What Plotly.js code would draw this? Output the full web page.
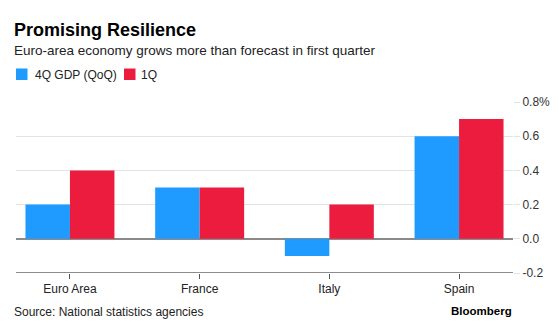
<!DOCTYPE html>
<html>
<head>
<meta charset="utf-8">
<script src="https://cdn.plot.ly/plotly-3.0.1.min.js"></script>
<style>html,body{margin:0;padding:0;background:#fff;}#chart{width:560px;height:331px;}</style>
</head>
<body>
<div id="chart"></div>
<script>
var categories = ["Euro Area", "France", "Italy", "Spain"];
var seriesNames = ["4Q GDP (QoQ)", "1Q"];
var seriesColors = ["#1f9bff", "#eb1c3d"];
var q4Values = [0.2, 0.3, -0.1, 0.6];
var q1Values = [0.4, 0.3, 0.2, 0.7];
var yTickVals = [-0.2, 0, 0.2, 0.4, 0.6, 0.8];
var yTickText = ["-0.2", "0.0", "0.2", "0.4", "0.6", "0.8%"];
var titleText = "Promising Resilience";
var subtitleText = "Euro-area economy grows more than forecast in first quarter";
var sourceText = "Source: National statistics agencies";
var brandText = "Bloomberg";

var FONT = "Liberation Sans, Arial, Helvetica, sans-serif";
var W = 560, H = 331;
var L = 16, R = 513, T = 102, B = 273;
function px(x){ return (x - L) / (R - L); }
function py(y){ return (B - y) / (B - T); }

var traces = [
  {type: "bar", name: seriesNames[0], x: categories, y: q4Values, marker: {color: seriesColors[0]}, hoverinfo: "skip"},
  {type: "bar", name: seriesNames[1], x: categories, y: q1Values, marker: {color: seriesColors[1]}, hoverinfo: "skip"}
];

// legend keys (drawn manually for exact Bloomberg-style spacing)
var legendKeyX = [16, 124];
var legendTextX = [35, 141];
var legendShapes = [], legendAnns = [];
for (var i = 0; i < seriesNames.length; i++) {
  legendShapes.push({type: "rect", xref: "paper", yref: "paper",
    x0: px(legendKeyX[i]), x1: px(legendKeyX[i] + 11.5), y0: py(80), y1: py(68.5),
    fillcolor: seriesColors[i], line: {width: 0}});
  legendAnns.push({text: seriesNames[i], xref: "paper", yref: "paper",
    x: px(legendTextX[i] - 2), y: py(74.5), xanchor: "left", yanchor: "middle",
    showarrow: false, font: {size: 12, color: "#222", family: FONT}});
}

var layout = {
  width: W, height: H,
  margin: {l: L, r: W - R, t: T, b: H - B, pad: 0, autoexpand: false},
  paper_bgcolor: "#fff", plot_bgcolor: "#fff",
  font: {family: FONT, color: "#222", size: 12},
  barmode: "group", bargap: 0.314, bargroupgap: 0,
  showlegend: false,
  xaxis: {type: "category", range: [-0.416, 3.416], showgrid: false, zeroline: false,
          showline: false, ticks: "outside", ticklen: 5, tickcolor: "#555", tickwidth: 1,
          tickfont: {size: 12, color: "#222"}, fixedrange: true, automargin: false},
  yaxis: {side: "right", range: [-0.2, 0.8], tickvals: yTickVals, ticktext: yTickText,
          showgrid: true, gridcolor: "#e3e3e3", gridwidth: 1,
          zeroline: true, zerolinecolor: "#8a8a8a", zerolinewidth: 1.5,
          showline: false, ticks: "outside", ticklen: 6, tickcolor: "#e3e3e3",
          tickfont: {size: 12, color: "#333"}, fixedrange: true, automargin: false},
  shapes: [
    {type: "line", xref: "paper", yref: "y", x0: 0, x1: 1, y0: -0.2, y1: -0.2,
     line: {color: "#666", width: 1.5}}
  ].concat(legendShapes),
  annotations: [
    {text: "<b>" + titleText + "</b>", xref: "paper", yref: "paper", x: px(12), y: py(18),
     xanchor: "left", yanchor: "top", showarrow: false, font: {size: 18, color: "#000", family: FONT}},
    {text: subtitleText, xref: "paper", yref: "paper", x: px(12), y: py(41),
     xanchor: "left", yanchor: "top", showarrow: false, font: {size: 13.5, color: "#222", family: FONT}},
    {text: sourceText, xref: "paper", yref: "paper", x: px(12), y: py(303),
     xanchor: "left", yanchor: "top", showarrow: false, font: {size: 12, color: "#222", family: FONT}},
    {text: "<b>" + brandText + "</b>", xref: "paper", yref: "paper", x: px(514), y: py(303),
     xanchor: "right", yanchor: "top", showarrow: false, font: {size: 11.5, color: "#000", family: FONT}}
  ].concat(legendAnns)
};

Plotly.newPlot("chart", traces, layout, {displayModeBar: false, staticPlot: true});
</script>
</body>
</html>
